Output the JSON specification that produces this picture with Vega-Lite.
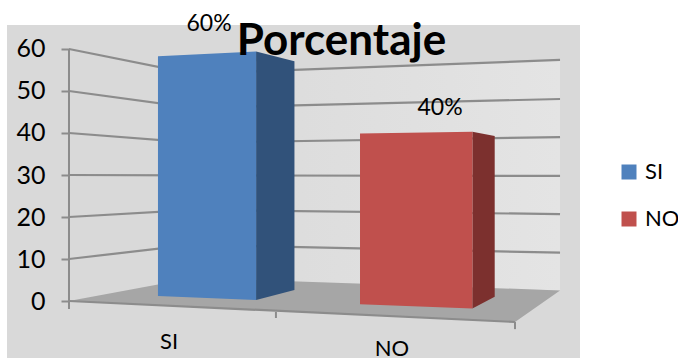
{
  "$schema": "https://vega.github.io/schema/vega-lite/v6.json",
  "autosize": {"type": "none"},
  "padding": {"left": 7, "top": 25, "right": 98, "bottom": 0},
  "width": 573,
  "height": 333,
  "background": "#ffffff",
  "view": {"stroke": null, "fill": "#d9d9d9"},
  "title": {"text": "Porcentaje", "font": "Lato", "fontSize": 44, "fontWeight": "bold", "color": "#000000", "anchor": "middle", "dx": 48, "dy": 86, "offset": 0, "baseline": "alphabetic"},
  "datasets": {
    "backWall": [
      {"pos": 0.556, "top": 54.3, "bottom": 5.5},
      {"pos": 2.202, "top": 57.4, "bottom": 2.5}
    ],
    "floor": [
      {"pos": 0, "top": 0, "bottom": 0},
      {"pos": 0.556, "top": 5.5, "bottom": -1.4},
      {"pos": 2, "top": 2.9, "bottom": -5},
      {"pos": 2.202, "top": 2.5, "bottom": 2.5}
    ],
    "gridlines": [
      {"level": 60, "pos": 0, "val": 60}, {"level": 60, "pos": 0.556, "val": 54.1}, {"level": 60, "pos": 2.202, "val": 57.4},
      {"level": 50, "pos": 0, "val": 50}, {"level": 50, "pos": 0.556, "val": 46.0}, {"level": 50, "pos": 2.202, "val": 48.1},
      {"level": 40, "pos": 0, "val": 40}, {"level": 40, "pos": 0.556, "val": 37.7}, {"level": 40, "pos": 2.202, "val": 39.0},
      {"level": 30, "pos": 0, "val": 30}, {"level": 30, "pos": 0.556, "val": 29.9}, {"level": 30, "pos": 2.202, "val": 29.8},
      {"level": 20, "pos": 0, "val": 20}, {"level": 20, "pos": 0.556, "val": 21.7}, {"level": 20, "pos": 2.202, "val": 20.7},
      {"level": 10, "pos": 0, "val": 10}, {"level": 10, "pos": 0.556, "val": 13.4}, {"level": 10, "pos": 2.202, "val": 11.5},
      {"level": 0, "pos": 0, "val": 0}, {"level": 0, "pos": 2, "val": -5}
    ],
    "axisRules": [
      {"pos": 0, "from": 60, "to": -1.9},
      {"pos": 0.928, "from": -2.6, "to": -4.05},
      {"pos": 2, "from": -5, "to": -6.7}
    ],
    "barSides": [
      {"category": "SI", "pos": 0.839, "top": 59.4, "bottom": 0.24},
      {"category": "SI", "pos": 1.011, "top": 57.1, "bottom": 2.6},
      {"category": "NO", "pos": 1.809, "top": 40.3, "bottom": -1.8},
      {"category": "NO", "pos": 1.909, "top": 39.3, "bottom": 1.0}
    ],
    "barFronts": [
      {"category": "SI", "pos": 0.399, "top": 58.3, "bottom": 1.2},
      {"category": "SI", "pos": 0.839, "top": 59.4, "bottom": 0.24},
      {"category": "NO", "pos": 1.305, "top": 39.9, "bottom": -0.8},
      {"category": "NO", "pos": 1.809, "top": 40.3, "bottom": -1.8}
    ],
    "valueLabels": [
      {"pos": 0.628, "value": 60, "label": "60%"},
      {"pos": 1.664, "value": 40, "label": "40%"}
    ],
    "categoryLabels": [
      {"pos": 0.449, "val": -9.7, "label": "SI"},
      {"pos": 1.448, "val": -11.5, "label": "NO"}
    ]
  },
  "layer": [
    {
      "data": {"name": "backWall"},
      "mark": {"type": "area", "color": {"x1": 0, "y1": 0, "x2": 1, "y2": 0, "gradient": "linear", "stops": [{"offset": 0, "color": "#dadada"}, {"offset": 1, "color": "#e4e4e4"}]}},
      "encoding": {
        "x": {"field": "pos", "type": "quantitative", "scale": {"domain": [-0.278, 2.2915], "nice": false, "zero": false}, "axis": null},
        "y": {
          "field": "top", "type": "quantitative",
          "scale": {"domain": [-13.571, 65.714], "nice": false, "zero": false},
          "axis": {"values": [0, 10, 20, 30, 40, 50, 60], "title": null, "grid": false, "domain": false, "offset": -62, "tickSize": 8, "tickWidth": 2, "tickColor": "#8c8c8c", "labelFont": "Lato", "labelFontSize": 25, "labelColor": "#000000", "labelPadding": 16}
        },
        "y2": {"field": "bottom"}
      }
    },
    {
      "data": {"name": "floor"},
      "mark": {"type": "area", "color": "#a6a6a6"},
      "encoding": {
        "x": {"field": "pos", "type": "quantitative"},
        "y": {"field": "top", "type": "quantitative"},
        "y2": {"field": "bottom"}
      }
    },
    {
      "data": {"name": "gridlines"},
      "mark": {"type": "line", "color": "#8c8c8c", "strokeWidth": 2.2},
      "encoding": {
        "x": {"field": "pos", "type": "quantitative"},
        "y": {"field": "val", "type": "quantitative"},
        "detail": {"field": "level", "type": "nominal"}
      }
    },
    {
      "data": {"name": "axisRules"},
      "mark": {"type": "rule", "color": "#8c8c8c", "strokeWidth": 2},
      "encoding": {
        "x": {"field": "pos", "type": "quantitative"},
        "y": {"field": "from", "type": "quantitative"},
        "y2": {"field": "to"}
      }
    },
    {
      "data": {"name": "barSides"},
      "transform": [{"filter": "datum.category === 'SI'"}],
      "mark": {"type": "area", "color": "#31527a"},
      "encoding": {
        "x": {"field": "pos", "type": "quantitative"},
        "y": {"field": "top", "type": "quantitative"},
        "y2": {"field": "bottom"}
      }
    },
    {
      "data": {"name": "barSides"},
      "transform": [{"filter": "datum.category === 'NO'"}],
      "mark": {"type": "area", "color": "#7c302e"},
      "encoding": {
        "x": {"field": "pos", "type": "quantitative"},
        "y": {"field": "top", "type": "quantitative"},
        "y2": {"field": "bottom"}
      }
    },
    {
      "data": {"name": "barFronts"},
      "mark": {"type": "area"},
      "encoding": {
        "x": {"field": "pos", "type": "quantitative"},
        "y": {"field": "top", "type": "quantitative"},
        "y2": {"field": "bottom"},
        "color": {
          "field": "category", "type": "nominal",
          "scale": {"domain": ["SI", "NO"], "range": ["#4f81bd", "#c0504d"]},
          "legend": {"title": null, "orient": "none", "legendX": 611, "legendY": 136, "symbolType": "square", "symbolSize": 225, "symbolStrokeWidth": 0, "labelFont": "Lato", "labelFontSize": 22, "labelColor": "#000000", "labelOffset": 5, "rowPadding": 25}
        }
      }
    },
    {
      "data": {"name": "valueLabels"},
      "mark": {"type": "text", "font": "Lato", "fontSize": 23, "color": "#000000", "baseline": "middle", "dy": -25},
      "encoding": {
        "x": {"field": "pos", "type": "quantitative"},
        "y": {"field": "value", "type": "quantitative"},
        "text": {"field": "label", "type": "nominal"}
      }
    },
    {
      "data": {"name": "categoryLabels"},
      "mark": {"type": "text", "font": "Lato", "fontSize": 22, "color": "#000000", "baseline": "middle"},
      "encoding": {
        "x": {"field": "pos", "type": "quantitative"},
        "y": {"field": "val", "type": "quantitative"},
        "text": {"field": "label", "type": "nominal"}
      }
    }
  ]
}
